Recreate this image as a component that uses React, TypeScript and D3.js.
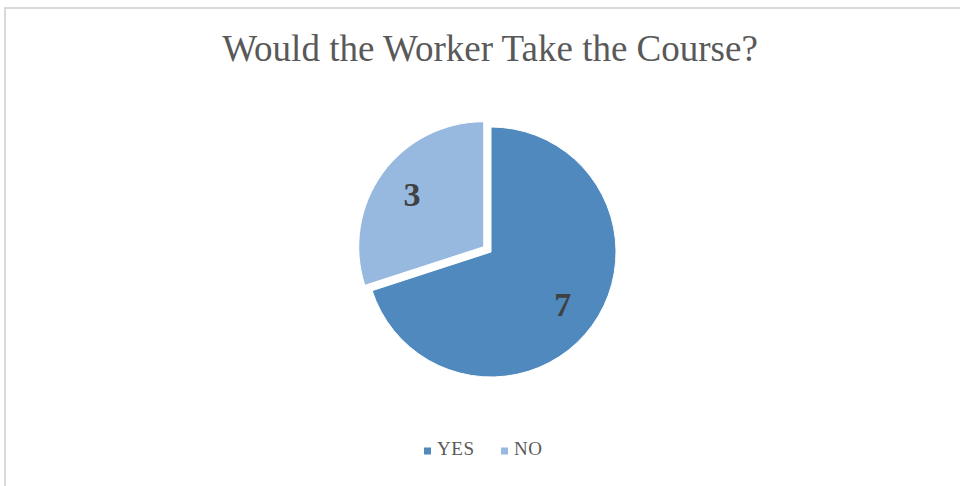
import React from "react";
import * as d3 from "d3";

const categories = ["YES", "NO"];
const values = [7, 3];
const colors = ["#4F89BE", "#97B9E0"];
const title = "Would the Worker Take the Course?";

const W = 960;
const H = 486;
const cx = 491;
const cy = 252;
const R = 125;
const explode = [0, 9];

export default function App() {
  const pie = d3.pie<number>().sort(null).value((d) => d)(values);
  const arc = d3.arc<d3.PieArcDatum<number>>().innerRadius(0).outerRadius(R);
  const labelArc = d3
    .arc<d3.PieArcDatum<number>>()
    .innerRadius(R * 0.71)
    .outerRadius(R * 0.71);

  const legendX = d3.scalePoint<string>().domain(categories).range([424, 501]);

  return (
    <svg
      width={W}
      height={H}
      style={{ position: "absolute", left: 0, top: 0, background: "#fff" }}
      fontFamily="'Liberation Serif', 'Times New Roman', serif"
    >
      <rect x={0} y={0} width={W} height={H} fill="#fff" />
      <path d={`M5,${H} L5,8 L${W},8`} fill="none" stroke="#D9D9D9" strokeWidth={2} />
      <text x={490} y={61} textAnchor="middle" fontSize={37} fill="#595959">
        {title}
      </text>
      {pie.map((p, i) => {
        const mid = (p.startAngle + p.endAngle) / 2;
        const dx = Math.sin(mid) * explode[i];
        const dy = -Math.cos(mid) * explode[i];
        const [lx, ly] = labelArc.centroid(p);
        return (
          <g key={categories[i]} transform={`translate(${cx + dx},${cy + dy})`}>
            <path d={arc(p) || ""} fill={colors[i]} stroke="#fff" strokeWidth={1} />
            <text
              x={lx}
              y={ly}
              textAnchor="middle"
              dominantBaseline="central"
              fontSize={34}
              fontWeight="bold"
              fill="#404040"
            >
              {values[i]}
            </text>
          </g>
        );
      })}
      {categories.map((c, i) => (
        <g key={c} transform={`translate(${legendX(c)},451)`}>
          <rect x={0} y={-3.5} width={7} height={7} fill={colors[i]} />
          <text x={13} y={4} fontSize={19} letterSpacing={0.6} fill="#595959">
            {c}
          </text>
        </g>
      ))}
    </svg>
  );
}
